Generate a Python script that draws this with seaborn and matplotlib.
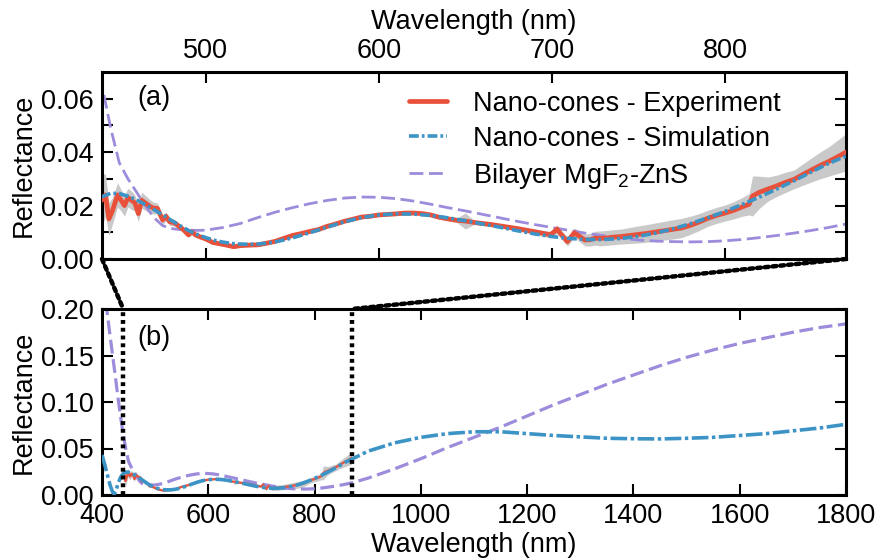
import numpy as np
import pandas as pd
import matplotlib
matplotlib.use("Agg")
import matplotlib.pyplot as plt
import seaborn as sns
from matplotlib.patches import ConnectionPatch
from matplotlib.lines import Line2D

# ---------------- data ----------------
exp_wl = [440, 442, 444, 446, 449, 451, 453, 455, 457, 459, 461, 463, 465, 468, 470, 472,
          475, 477, 479, 482, 485, 487, 490, 492, 494, 497, 500, 504, 508, 512, 516, 520,
          525, 530, 535, 540, 545, 550, 555, 560, 565, 570, 575, 580, 585, 590, 595, 600,
          605, 610, 615, 620, 625, 630, 635, 640, 645, 650, 655, 660, 665, 670, 675, 680,
          685, 690, 695, 699, 701, 703, 705, 707, 709, 711, 713, 716, 719, 722, 725, 728,
          732, 736, 740, 745, 750, 755, 760, 765, 770, 775, 780, 785, 790, 795, 800, 805,
          810, 814, 816, 820, 825, 830, 835, 840, 845, 850, 855, 860, 865, 870]
exp_r = [0.022, 0.024, 0.015, 0.018, 0.024, 0.022, 0.020, 0.023, 0.022, 0.021, 0.017, 0.022,
         0.021, 0.0196, 0.019, 0.019, 0.0146, 0.016, 0.014, 0.0135, 0.012, 0.011, 0.009, 0.0102,
         0.009, 0.0082, 0.0075, 0.0062, 0.0057, 0.0052, 0.0046, 0.0050, 0.0052, 0.0053, 0.0059,
         0.0066, 0.0077, 0.0088, 0.0095, 0.0103, 0.0110, 0.0122, 0.0131, 0.0141, 0.0149, 0.0157,
         0.0160, 0.0165, 0.0167, 0.0169, 0.0172, 0.0172, 0.0170, 0.0165, 0.0156, 0.0150, 0.0145,
         0.0142, 0.0137, 0.0133, 0.0129, 0.0124, 0.0119, 0.0114, 0.0108, 0.0102, 0.0096, 0.0091,
         0.0100, 0.0112, 0.0095, 0.0080, 0.0065, 0.0082, 0.0098, 0.0085, 0.0071, 0.0072, 0.0078,
         0.0077, 0.0079, 0.0082, 0.0084, 0.0088, 0.0092, 0.0096, 0.0101, 0.0106, 0.0111, 0.0116,
         0.0126, 0.0138, 0.0152, 0.0163, 0.0172, 0.0182, 0.0195, 0.0205, 0.0236, 0.0250, 0.0262,
         0.0274, 0.0287, 0.0298, 0.0316, 0.0333, 0.0350, 0.0365, 0.0382, 0.0400]
exp_sd = [0.0095, 0.008, 0.006, 0.005, 0.0045, 0.004, 0.004, 0.0035, 0.0035, 0.003, 0.003, 0.003,
          0.0028, 0.0025, 0.0022, 0.002, 0.0018, 0.0016, 0.0014, 0.0012, 0.001, 0.0009, 0.0008,
          0.0008, 0.0008, 0.0007, 0.0007, 0.0006, 0.0006, 0.0006, 0.0006, 0.0006, 0.0006, 0.0006,
          0.0006, 0.0006, 0.0006, 0.0006, 0.0006, 0.0006, 0.0006, 0.0006, 0.0006, 0.0006, 0.0006,
          0.0006, 0.0006, 0.0006, 0.0006, 0.0006, 0.0006, 0.0006, 0.0006, 0.0006, 0.0006, 0.0007,
          0.0008, 0.0030, 0.0008, 0.0008, 0.0008, 0.0008, 0.0009, 0.0009, 0.0010, 0.0010, 0.0011,
          0.0012, 0.0014, 0.0016, 0.0016, 0.0016, 0.0017, 0.0017, 0.0018, 0.0020, 0.0022, 0.0024,
          0.0026, 0.0028, 0.0028, 0.0028, 0.0028, 0.0030, 0.0032, 0.0033, 0.0034, 0.0035, 0.0036,
          0.0036, 0.0034, 0.0032, 0.0030, 0.0030, 0.0030, 0.0032, 0.0035, 0.0040, 0.0075, 0.0060,
          0.0045, 0.0040, 0.0038, 0.0035, 0.0040, 0.0045, 0.0050, 0.0055, 0.0062, 0.0070]

sim_wl = [400, 405, 410, 415, 420, 423, 426, 430, 435, 440, 445, 450, 455, 460, 465, 470, 475,
          480, 485, 490, 495, 500, 505, 510, 515, 520, 525, 530, 535, 540, 545, 550, 560, 570,
          580, 590, 600, 610, 620, 630, 640, 650, 660, 670, 680, 690, 700, 710, 720, 730, 740,
          750, 760, 770, 780, 790, 800, 810, 820, 830, 840, 850, 860, 870, 900, 950, 1000, 1050,
          1100, 1150, 1200, 1250, 1300, 1350, 1400, 1450, 1500, 1550, 1600, 1650, 1700, 1750, 1800]
sim_r = [0.043, 0.033, 0.022, 0.011, 0.003, 0.001, 0.004, 0.012, 0.019, 0.0233, 0.0246, 0.0245,
         0.0235, 0.0221, 0.0204, 0.0185, 0.0165, 0.0145, 0.0125, 0.0107, 0.0092, 0.0080, 0.0070,
         0.0063, 0.0058, 0.0056, 0.0055, 0.0056, 0.0059, 0.0064, 0.0071, 0.0079, 0.0098, 0.0119,
         0.0139, 0.0155, 0.0165, 0.0169, 0.0168, 0.0163, 0.0154, 0.0143, 0.0131, 0.0119, 0.0106,
         0.0094, 0.0084, 0.0077, 0.0073, 0.0073, 0.0077, 0.0085, 0.0097, 0.0113, 0.0132, 0.0154,
         0.0178, 0.0204, 0.0232, 0.0262, 0.0293, 0.0326, 0.0358, 0.0385, 0.047, 0.056, 0.062,
         0.066, 0.068, 0.068, 0.066, 0.064, 0.0625, 0.061, 0.0605, 0.0603, 0.061, 0.062, 0.064,
         0.066, 0.069, 0.072, 0.076]

bil_wl = [400, 405, 410, 415, 420, 425, 430, 435, 440, 445, 450, 455, 460, 465, 470, 475, 480,
          485, 490, 495, 500, 510, 520, 530, 540, 550, 560, 570, 580, 590, 600, 610, 620, 630,
          640, 650, 660, 670, 680, 690, 700, 710, 720, 730, 740, 750, 760, 770, 780, 790, 800,
          810, 820, 830, 840, 850, 860, 870, 900, 950, 1000, 1050, 1100, 1150, 1200, 1250, 1300,
          1350, 1400, 1450, 1500, 1550, 1600, 1650, 1700, 1750, 1800]
bil_r = [0.25, 0.222, 0.195, 0.172, 0.150, 0.128, 0.105, 0.084, 0.065, 0.049, 0.036, 0.030,
         0.025, 0.020, 0.0155, 0.0125, 0.0114, 0.0110, 0.0108, 0.0107, 0.0108, 0.0118, 0.0133,
         0.0155, 0.0175, 0.0192, 0.0207, 0.0219, 0.0228, 0.0232, 0.0231, 0.0226, 0.0217, 0.0205,
         0.0192, 0.0180, 0.0167, 0.0154, 0.0141, 0.0129, 0.0118, 0.0107, 0.0096, 0.0087, 0.0078,
         0.0071, 0.0067, 0.0065, 0.0064, 0.0065, 0.0068, 0.0073, 0.0080, 0.0088, 0.0097, 0.0107,
         0.0118, 0.0131, 0.018, 0.028, 0.039, 0.051, 0.062, 0.073, 0.085, 0.097, 0.108, 0.119,
         0.129, 0.139, 0.148, 0.156, 0.163, 0.169, 0.175, 0.180, 0.184]

labels = ["Nano-cones - Experiment", "Nano-cones - Simulation", "Bilayer MgF$_\\mathregular{2}$-ZnS"]
zoom_range = [440, 870]
full_range = [400, 1800]
top_yticks = [0.00, 0.01, 0.02, 0.03, 0.04, 0.05, 0.06]
top_yticklabels = ["0.00", "", "0.02", "", "0.04", "", "0.06"]
top_xticks = [500, 600, 700, 800]
bot_xticks = [400, 600, 800, 1000, 1200, 1400, 1600, 1800]
bot_yticks = [0.00, 0.05, 0.10, 0.15, 0.20]

exp_df = pd.DataFrame({"wl": exp_wl, "r": exp_r, "sd": exp_sd})
sim_df = pd.DataFrame({"wl": sim_wl, "r": sim_r})
bil_df = pd.DataFrame({"wl": bil_wl, "r": bil_r})

# ---------------- style ----------------
sns.set_style("ticks")
plt.rcParams["font.family"] = ["Liberation Sans", "DejaVu Sans"]
plt.rcParams["mathtext.fontset"] = "custom"
plt.rcParams["mathtext.rm"] = "Liberation Sans"
plt.rcParams["mathtext.it"] = "Liberation Sans:italic"
plt.rcParams["lines.scale_dashes"] = False
for k in ["text.color", "axes.labelcolor", "xtick.color", "ytick.color", "axes.edgecolor"]:
    plt.rcParams[k] = "black"
FS = 19.5

RED = "#E8503A"
BLUE = "#3C93C6"
PURPLE = "#9D8BDB"
GRAY = "#C9C9C9"

fig = plt.figure(figsize=(8.78, 5.6), dpi=100)
ax1 = fig.add_axes([102 / 878, 1 - 259 / 560, 744 / 878, 187 / 560])
ax2 = fig.add_axes([102 / 878, 1 - 495 / 560, 744 / 878, 186 / 560])

# ---- top panel ----
ax1.fill_between(exp_df["wl"], exp_df["r"] - exp_df["sd"], exp_df["r"] + exp_df["sd"],
                 color=GRAY, lw=0, zorder=1)
sns.lineplot(data=exp_df, x="wl", y="r", ax=ax1, color=RED, lw=3.4, zorder=3)
sns.lineplot(data=sim_df, x="wl", y="r", ax=ax1, color=BLUE, lw=2.6, zorder=4)
ax1.lines[-1].set_dashes([7, 2.2, 2, 2.2])
sns.lineplot(data=bil_df, x="wl", y="r", ax=ax1, color=PURPLE, lw=2.0, zorder=2)
ax1.lines[-1].set_dashes([10, 4])

ax1.set_xlim(*zoom_range)
ax1.set_ylim(0, 0.07)
ax1.set_xticks(top_xticks)
ax1.set_yticks(top_yticks)
ax1.set_yticklabels(top_yticklabels)
ax1.xaxis.set_label_position("top")
ax1.set_xlabel("Wavelength (nm)", fontsize=FS, labelpad=6)
ax1.set_ylabel("Reflectance", fontsize=FS, labelpad=3)
ax1.tick_params(axis="both", which="major", direction="in", length=8, width=1.5,
                top=True, right=True, labelsize=FS, pad=6)
ax1.tick_params(axis="x", labeltop=True, labelbottom=False)
ax1.text(0.047, 0.86, "(a)", transform=ax1.transAxes, fontsize=FS, va="center", ha="left")

leg = ax1.legend(handles=[Line2D([], [], color=RED, lw=3.4),
                          Line2D([], [], color=BLUE, lw=2.6, dashes=[7, 2.2, 2, 2.2]),
                          Line2D([], [], color=PURPLE, lw=2.0, dashes=[10, 4])],
                 labels=labels, loc="upper left", bbox_to_anchor=(0.413, 0.90),
                 frameon=False, fontsize=FS, handlelength=1.4, handletextpad=0.95,
                 labelspacing=0.33, borderpad=0, borderaxespad=0)

# ---- bottom panel ----
ax2.fill_between(exp_df["wl"], exp_df["r"] - exp_df["sd"], exp_df["r"] + exp_df["sd"],
                 color=GRAY, lw=0, zorder=1)
sns.lineplot(data=exp_df, x="wl", y="r", ax=ax2, color=RED, lw=1.6, zorder=3)
sns.lineplot(data=sim_df, x="wl", y="r", ax=ax2, color=BLUE, lw=2.6, zorder=4)
ax2.lines[-1].set_dashes([12, 2.5, 2.5, 2.5])
sns.lineplot(data=bil_df, x="wl", y="r", ax=ax2, color=PURPLE, lw=2.3, zorder=2)
ax2.lines[-1].set_dashes([10, 4])

for xv in zoom_range:
    ax2.axvline(xv, color="black", lw=3.2, dashes=(2.8, 2.8), zorder=6, clip_on=False)

ax2.set_xlim(*full_range)
ax2.set_ylim(0, 0.2)
ax2.set_xticks(bot_xticks)
ax2.set_yticks(bot_yticks)
ax2.set_yticklabels([f"{v:.2f}" for v in bot_yticks])
ax2.set_xlabel("Wavelength (nm)", fontsize=FS, labelpad=2)
ax2.set_ylabel("Reflectance", fontsize=FS, labelpad=3)
ax2.tick_params(axis="both", which="major", direction="in", length=8, width=1.5,
                top=True, right=True, labelsize=FS, pad=6)
ax2.text(0.047, 0.845, "(b)", transform=ax2.transAxes, fontsize=FS, va="center", ha="left")

for ax in (ax1, ax2):
    for s in ax.spines.values():
        s.set_linewidth(2.2)
        s.set_color("black")

# connecting dotted lines
for xv in zoom_range:
    con = ConnectionPatch(xyA=(xv, 0), coordsA=ax1.transData,
                          xyB=(xv, 0.2), coordsB=ax2.transData,
                          color="black", lw=3.2, linestyle=(0, (2.8, 2.8)), zorder=10)
    fig.add_artist(con)

fig.savefig("out.png", dpi=100)
